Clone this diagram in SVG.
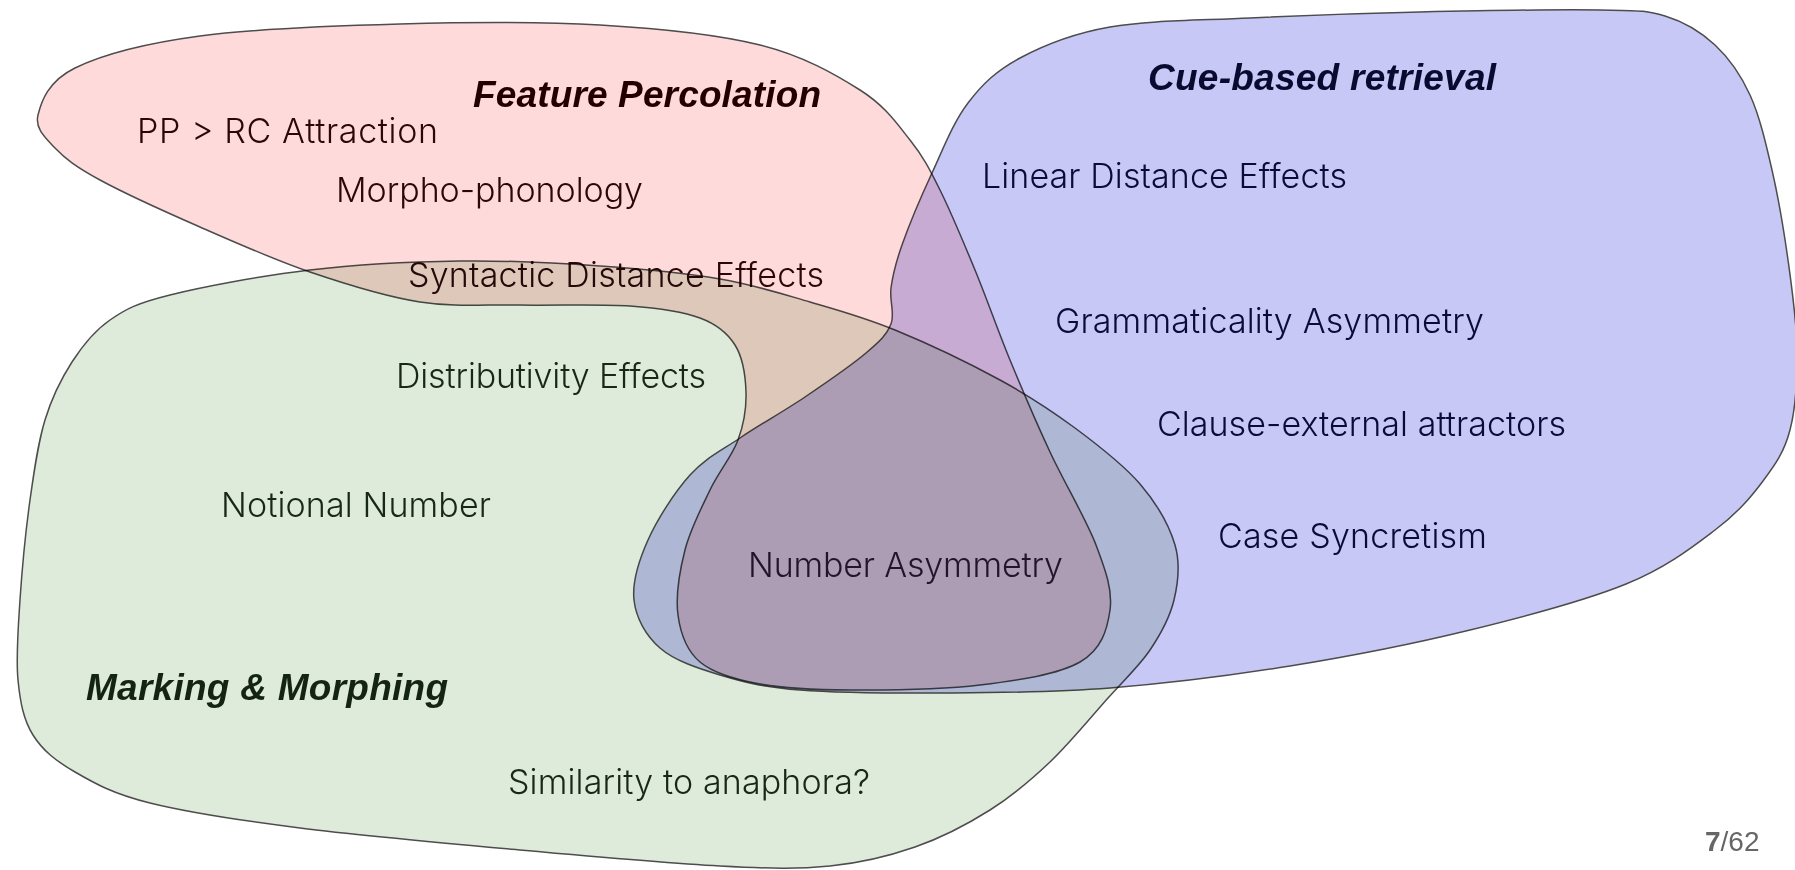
<svg xmlns="http://www.w3.org/2000/svg" width="1795" height="870" viewBox="0 0 1795 870">
<style>
.set{mix-blend-mode:multiply}
.outline{stroke:#4d4d4d;stroke-width:1.5;stroke-linejoin:round}
.lbl{font-family:Inter,"Liberation Sans",Arial,sans-serif;font-size:34px;font-weight:300}
.ttl{font-family:"Liberation Sans",Arial,Helvetica,sans-serif;font-size:37px;font-weight:bold;font-style:italic}
.pk{fill:#2a0808}
.bl{fill:#0b0b35}
.gr{fill:#182818}
</style>
<rect width="1795" height="870" fill="#ffffff"/>
<g id="marking-morphing" class="set">
<path class="outline" fill="#DEEADA" d="M 170,295 C 203.3,286.7 261.7,275.7 310,270 C 358.3,264.3 411.7,261.7 460,261 C 508.3,260.3 556.7,263 600,266 C 643.3,269 685,273 720,279 C 755,285 780.8,293.5 810,302 C 839.2,310.5 863.3,317 895,330 C 926.7,343 970,363.7 1000,380 C 1030,396.3 1051.7,410.7 1075,428 C 1098.3,445.3 1123.3,464.5 1140,484 C 1156.7,503.5 1169.3,525.7 1175,545 C 1180.7,564.3 1178.2,582.5 1174,600 C 1169.8,617.5 1161,633.7 1150,650 C 1139,666.3 1124.7,679.3 1108,698 C 1091.3,716.7 1069.7,743.3 1050,762 C 1030.3,780.7 1012.5,795.8 990,810 C 967.5,824.2 941.7,837.7 915,847 C 888.3,856.3 862.5,862.8 830,866 C 797.5,869.2 771.7,868.7 720,866 C 668.3,863.3 590,856.3 520,850 C 450,843.7 361.7,835.8 300,828 C 238.3,820.2 187.5,812.3 150,803 C 112.5,793.7 94.5,783.3 75,772 C 55.5,760.7 42.5,750.3 33,735 C 23.5,719.7 20.2,702.5 18,680 C 15.8,657.5 18,630 20,600 C 22,570 25.8,530 30,500 C 34.2,470 38,443 45,420 C 52,397 61.2,378.7 72,362 C 82.8,345.3 93.7,331.2 110,320 C 126.3,308.8 136.7,303.3 170,295 Z"/>
<text class="lbl gr" x="396" y="388" textLength="310">Distributivity Effects</text>
<text class="lbl gr" x="221" y="517" textLength="270">Notional Number</text>
<text class="ttl" fill="#142414" x="86" y="700" textLength="362">Marking &amp; Morphing</text>
<text class="lbl gr" x="508" y="794" textLength="362">Similarity to anaphora?</text>
</g>
<g id="feature-percolation" class="set">
<path class="outline" fill="#FEDADA" d="M 38,115 C 41.3,101.7 48,81.2 75,68 C 102,54.8 145.8,43.3 200,36 C 254.2,28.7 333.3,25.8 400,24 C 466.7,22.2 540,21.5 600,25 C 660,28.5 716.7,34.2 760,45 C 803.3,55.8 835,74.2 860,90 C 885,105.8 896.7,123.3 910,140 C 923.3,156.7 929.2,168.3 940,190 C 950.8,211.7 963.3,241.7 975,270 C 986.7,298.3 997.5,329.7 1010,360 C 1022.5,390.3 1035.7,421.2 1050,452 C 1064.3,482.8 1086,518.7 1096,545 C 1106,571.3 1112.7,590.5 1110,610 C 1107.3,629.5 1101.7,649.5 1080,662 C 1058.3,674.5 1018.3,680.3 980,685 C 941.7,689.7 886.7,690.2 850,690 C 813.3,689.8 785,688.7 760,684 C 735,679.3 713.7,673.5 700,662 C 686.3,650.5 680.5,633.7 678,615 C 675.5,596.3 679.7,570.8 685,550 C 690.3,529.2 701.2,508.3 710,490 C 718.8,471.7 732,456.3 738,440 C 744,423.7 746.5,407.8 746,392 C 745.5,376.2 742.7,357.3 735,345 C 727.3,332.7 717.5,324.5 700,318 C 682.5,311.5 660,308.2 630,306 C 600,303.8 555,305.7 520,305 C 485,304.3 455,307.5 420,302 C 385,296.5 346.7,284.5 310,272 C 273.3,259.5 235,242.3 200,227 C 165,211.7 124.2,193.2 100,180 C 75.8,166.8 65.3,158.8 55,148 C 44.7,137.2 34.7,128.3 38,115 Z"/>
<text class="ttl" fill="#220000" x="473" y="107" textLength="348">Feature Percolation</text>
<text class="lbl pk" x="137" y="143" textLength="301">PP &gt; RC Attraction</text>
<text class="lbl pk" x="336" y="202" textLength="307">Morpho-phonology</text>
<text class="lbl pk" x="408" y="287" textLength="416">Syntactic Distance Effects</text>
</g>
<g id="cue-based-retrieval" class="set">
<path class="outline" fill="#C8C8F7" d="M 634,600 C 632,582 638.7,560.8 648,540 C 657.3,519.2 674.7,492 690,475 C 705.3,458 720.8,451 740,438 C 759.2,425 784,411.2 805,397 C 826,382.8 851.7,365.2 866,353 C 880.3,340.8 886.8,334.8 891,324 C 895.2,313.2 889.2,301.2 891,288 C 892.8,274.8 895.2,264.2 902,245 C 908.8,225.8 921,196.7 932,173 C 943,149.3 953.3,122.2 968,103 C 982.7,83.8 996.3,70.7 1020,58 C 1043.7,45.3 1071.7,33.7 1110,27 C 1148.3,20.3 1198.3,20.5 1250,18 C 1301.7,15.5 1361.7,13.3 1420,12 C 1478.3,10.7 1559.2,9.3 1600,10 C 1640.8,10.7 1645.8,10.2 1665,16 C 1684.2,21.8 1700.8,31.8 1715,45 C 1729.2,58.2 1740.5,74.2 1750,95 C 1759.5,115.8 1765.7,142.5 1772,170 C 1778.3,197.5 1783.8,230 1788,260 C 1792.2,290 1796.7,321.7 1797,350 C 1797.3,378.3 1795.7,408.2 1790,430 C 1784.3,451.8 1775.5,464.3 1763,481 C 1750.5,497.7 1737.8,512.8 1715,530 C 1692.2,547.2 1666.8,567.3 1626,584 C 1585.2,600.7 1526,616.3 1470,630 C 1414,643.7 1350,656.3 1290,666 C 1230,675.7 1166.7,683.5 1110,688 C 1053.3,692.5 1001.7,692.7 950,693 C 898.3,693.3 838.3,693 800,690 C 761.7,687 743.3,682 720,675 C 696.7,668 674.3,660.5 660,648 C 645.7,635.5 636,618 634,600 Z"/>
<text class="ttl" fill="#0a0a30" x="1148" y="90" textLength="348">Cue-based retrieval</text>
<text class="lbl bl" x="982" y="188" textLength="365">Linear Distance Effects</text>
<text class="lbl bl" x="1055" y="333" textLength="429">Grammaticality Asymmetry</text>
<text class="lbl bl" x="1157" y="436" textLength="409">Clause-external attractors</text>
<text class="lbl bl" x="1218" y="548" textLength="269">Case Syncretism</text>
<text class="lbl" fill="#2a1838" x="748" y="577" textLength="315">Number Asymmetry</text>
</g>
<g id="page-number">
<text font-family="Liberation Sans, Arial, sans-serif" font-size="28" fill="#666" x="1705" y="851"><tspan font-weight="bold">7</tspan>/62</text>
</g>
</svg>
